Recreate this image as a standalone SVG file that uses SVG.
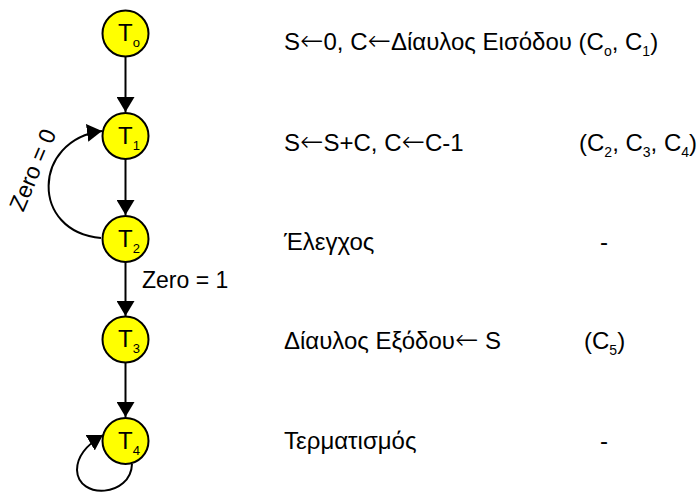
<svg xmlns="http://www.w3.org/2000/svg" width="698" height="492" viewBox="0 0 698 492">
<style>
.node circle{fill:#ffff00;stroke:#000;stroke-width:2}
.t{font-family:"Liberation Sans",Arial,sans-serif;fill:#000}
.nl{font-size:24px}
.sub{font-size:14px}
.nsub{font-size:13px}
.lab{font-size:24px}
.ar{font-family:"DejaVu Sans",sans-serif;font-size:28px;font-weight:200}
.edge{fill:none;stroke:#000;stroke-width:2}
</style>
<defs>
<marker id="ah" markerUnits="userSpaceOnUse" markerWidth="16" markerHeight="18" refX="15" refY="9" orient="auto">
<path d="M0,0 L15,9 L0,18 z" fill="#000"/>
</marker>
</defs>
<rect width="698" height="492" fill="#fff"/>
<g id="connectors">
<line class="edge" x1="125.5" y1="57" x2="125.5" y2="112" marker-end="url(#ah)"/>
<line class="edge" x1="125.5" y1="159" x2="125.5" y2="215" marker-end="url(#ah)"/>
<line class="edge" x1="125.5" y1="262" x2="125.5" y2="316" marker-end="url(#ah)"/>
<line class="edge" x1="125.5" y1="362" x2="125.5" y2="417" marker-end="url(#ah)"/>
<path class="edge" d="M101 238 C30 232 32 140 102 131" marker-end="url(#ah)"/>
<path class="edge" d="M132 464 C131 497 78 500 77 470 C77 455 88 444 103 435" marker-end="url(#ah)"/>
<text class="t" font-size="23" transform="translate(40 173) rotate(-67)" text-anchor="middle">Zero = 0</text>
<text class="t" font-size="23" x="142" y="288">Zero = 1</text>
</g>
<g id="T0" class="node"><circle cx="125.5" cy="33.5" r="23"/><text class="t nl" x="118" y="41">T<tspan class="nsub" dy="6">o</tspan></text></g>
<g id="T1" class="node"><circle cx="125.5" cy="136" r="23"/><text class="t nl" x="118" y="143.5">T<tspan class="nsub" dy="6">1</tspan></text></g>
<g id="T2" class="node"><circle cx="125.5" cy="239" r="23"/><text class="t nl" x="118" y="246.5">T<tspan class="nsub" dy="6">2</tspan></text></g>
<g id="T3" class="node"><circle cx="125.5" cy="339.5" r="23"/><text class="t nl" x="118" y="347">T<tspan class="nsub" dy="6">3</tspan></text></g>
<g id="T4" class="node"><circle cx="125.5" cy="441" r="23"/><text class="t nl" x="118" y="448.5">T<tspan class="nsub" dy="6">4</tspan></text></g>
<g id="descriptions">
<text class="t lab" x="284" y="50">S<tspan class="ar">←</tspan>0, C<tspan class="ar">←</tspan>Δίαυλος Εισόδου (C<tspan class="sub" dy="6">o</tspan><tspan dy="-6">, C</tspan><tspan class="sub" dy="6">1</tspan><tspan dy="-6">)</tspan></text>
<text class="t lab" x="284" y="151">S<tspan class="ar">←</tspan>S+C, C<tspan class="ar">←</tspan>C-1</text>
<text class="t lab" x="579" y="151">(C<tspan class="sub" dy="6">2</tspan><tspan dy="-6">, C</tspan><tspan class="sub" dy="6">3</tspan><tspan dy="-6">, C</tspan><tspan class="sub" dy="6">4</tspan><tspan dy="-6">)</tspan></text>
<text class="t lab" x="284" y="250">Έλεγχος</text>
<text class="t lab" x="604" y="250" text-anchor="middle">-</text>
<text class="t lab" x="284" y="349">Δίαυλος Εξόδου<tspan class="ar">←</tspan> S</text>
<text class="t lab" x="584" y="349">(C<tspan class="sub" dy="6">5</tspan><tspan dy="-6">)</tspan></text>
<text class="t lab" x="284" y="449">Τερματισμός</text>
<text class="t lab" x="604" y="449" text-anchor="middle">-</text>
</g>
</svg>
